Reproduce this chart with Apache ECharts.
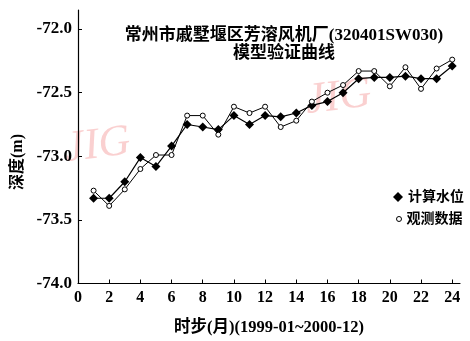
<!DOCTYPE html>
<html><head><meta charset="utf-8">
<script src="https://cdn.jsdelivr.net/npm/echarts@6/dist/echarts.min.js"></script>
<style>html,body{margin:0;padding:0;background:#fff}#c{width:470px;height:341px}</style>
</head><body><div id="c"></div>
<script>
const months = [1,2,3,4,5,6,7,8,9,10,11,12,13,14,15,16,17,18,19,20,21,22,23,24];
const calcLevel = [-73.33,-73.33,-73.20,-73.01,-73.08,-72.92,-72.75,-72.77,-72.79,-72.68,-72.75,-72.68,-72.69,-72.66,-72.60,-72.57,-72.50,-72.39,-72.38,-72.38,-72.37,-72.39,-72.39,-72.29];
const obsLevel = [-73.27,-73.39,-73.26,-73.10,-72.99,-72.99,-72.68,-72.68,-72.83,-72.61,-72.66,-72.61,-72.77,-72.72,-72.57,-72.50,-72.44,-72.33,-72.33,-72.45,-72.30,-72.47,-72.31,-72.24];
const xTicks = [0,2,4,6,8,10,12,14,16,18,20,22,24];
const yTicks = [-74,-73.5,-73,-72.5,-72];
const seriesNames = ['计算水位','观测数据'];
const titleText = '常州市戚墅堰区芳溶风机厂(320401SW030)\n模型验证曲线';
const xName = '时步(月)(1999-01~2000-12)';
const yName = '深度(m)';

const FONT = '"Liberation Serif", "Noto Sans CJK SC", serif';
const legendText = {fontFamily: FONT, fontSize: 14, fontWeight: 'bold', color: '#000'};
const chart = echarts.init(document.getElementById('c'));
chart.setOption({
  animation: false,
  backgroundColor: '#fff',
  title: {
    text: titleText, left: 279, top: 22, textAlign: 'center',
    textStyle: {fontFamily: FONT, fontSize: 17, fontWeight: 'bold', color: '#000', lineHeight: 18}
  },
  graphic: [
    {type: 'text', left: 62, top: 120, rotation: 0.12, z: 0, silent: true,
     style: {text: 'JIG', fontFamily: FONT, fontStyle: 'italic', fontSize: 44, fill: 'rgba(240,120,120,0.35)'}},
    {type: 'text', left: 303, top: 72, rotation: 0.12, z: 0, silent: true,
     style: {text: 'JIG', fontFamily: FONT, fontStyle: 'italic', fontSize: 44, fill: 'rgba(240,120,120,0.35)'}},
    {type: 'text', x: 18, y: 162, rotation: Math.PI / 2, z: 5, silent: true,
     style: {text: yName, fontFamily: FONT, fontSize: 16, fontWeight: 'bold', fill: '#000', align: 'center', verticalAlign: 'middle'}}
  ],
  legend: [
    {orient: 'vertical', left: 388, top: 185, itemWidth: 10, itemHeight: 10, itemGap: 5,
     textStyle: legendText, data: [{name: seriesNames[0], icon: 'diamond'}]},
    {orient: 'vertical', left: 391, top: 207, itemWidth: 5, itemHeight: 5, itemGap: 5,
     textStyle: legendText,
     data: [{name: seriesNames[1], icon: 'circle', itemStyle: {color: '#fff', borderColor: '#000', borderWidth: 1}}]}
  ],
  grid: {left: 78, right: 10, top: 10, bottom: 57},
  xAxis: {
    type: 'value', min: 0, max: 24.5,
    name: xName, nameLocation: 'middle', nameGap: 36,
    nameTextStyle: {fontFamily: FONT, fontSize: 16.5, fontWeight: 'bold', color: '#000'},
    axisLine: {lineStyle: {color: '#000', width: 1.2}},
    axisTick: {inside: true, length: 4, customValues: xTicks, lineStyle: {color: '#000'}},
    axisLabel: {customValues: xTicks, margin: 6, fontFamily: FONT, fontSize: 16, fontWeight: 'bold', color: '#000'},
    splitLine: {show: false}
  },
  yAxis: {
    type: 'value', min: -74, max: -71.85,
    axisLine: {show: true, lineStyle: {color: '#000', width: 1.2}},
    axisTick: {show: true, inside: true, length: 4, customValues: yTicks, lineStyle: {color: '#000'}},
    axisLabel: {customValues: yTicks, margin: 6, fontFamily: FONT, fontSize: 17, fontWeight: 'bold', color: '#000',
      formatter: v => v.toFixed(1)},
    splitLine: {show: false}
  },
  series: [
    {name: seriesNames[0], type: 'line', data: months.map((m, i) => [m, calcLevel[i]]),
     symbol: 'diamond', symbolSize: 9, z: 3,
     lineStyle: {color: '#000', width: 1.2}, itemStyle: {color: '#000'}},
    {name: seriesNames[1], type: 'line', data: months.map((m, i) => [m, obsLevel[i]]),
     symbol: 'circle', symbolSize: 5, showAllSymbol: true, z: 4,
     lineStyle: {color: '#000', width: 1}, itemStyle: {color: '#fff', borderColor: '#000', borderWidth: 1}}
  ]
});
</script></body></html>
